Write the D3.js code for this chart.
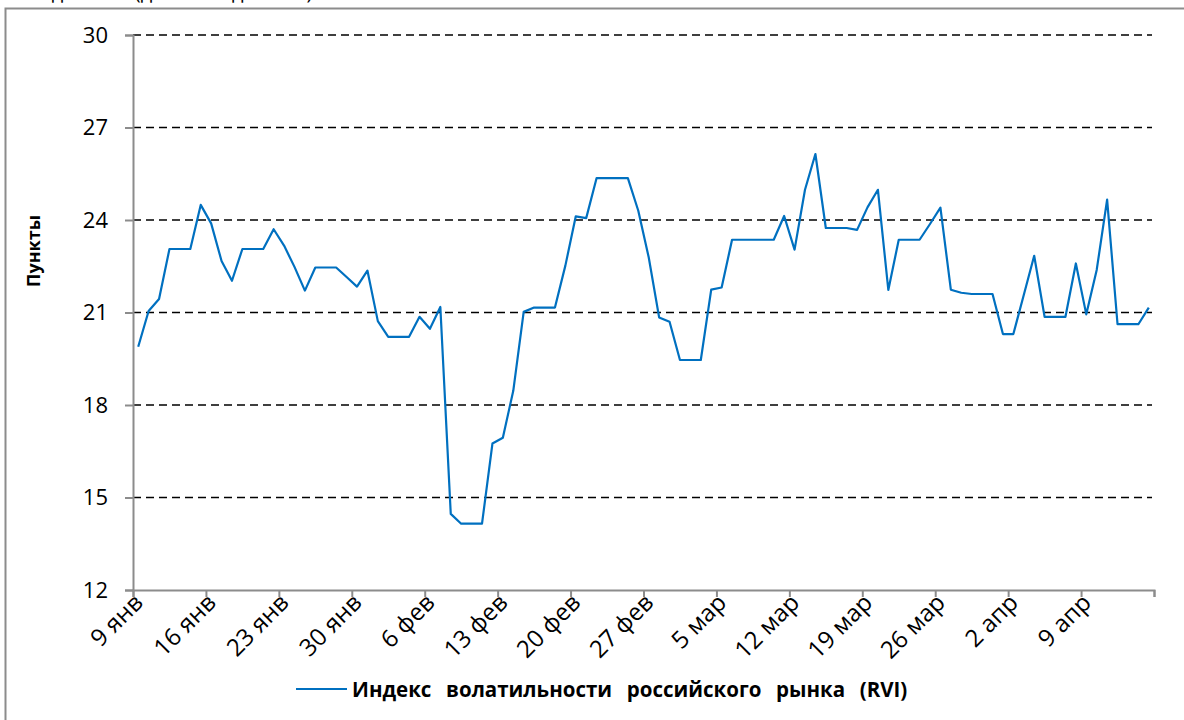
<!DOCTYPE html>
<html>
<head>
<meta charset="utf-8">
<script src="https://d3js.org/d3.v7.min.js"></script>
<style>
  body { margin: 0; background: #fff; }
  svg { display: block; font-family: 'Open Sans', 'Noto Sans', sans-serif; }
</style>
</head>
<body>
<div id="chart"></div>
<script>
// RVI daily values, 2024 (weekends carry the Friday value, as on the picture)
var janValues = [19.89, 21.05, 21.44, 23.06, 23.06, 23.06, 24.49, 23.89, 22.67, 22.03,
    23.06, 23.06, 23.06, 23.70, 23.17, 22.48, 21.71, 22.46, 22.46, 22.46, 22.15, 21.84, 22.36];
var febValues = [20.72, 20.21, 20.21, 20.21, 20.86, 20.47, 21.18, 14.47, 14.15, 14.15,
    14.15, 16.75, 16.94, 18.46, 21.02, 21.16, 21.16, 21.16, 22.52, 24.12, 24.06, 25.36,
    25.36, 25.36, 25.36, 24.30, 22.79, 20.84, 20.70];
var marValues = [19.46, 19.46, 19.46, 21.74, 21.81, 23.36, 23.36, 23.36, 23.36, 23.36,
    24.13, 23.04, 24.98, 26.14, 23.74, 23.74, 23.74, 23.68, 24.41, 24.98, 21.73, 23.36,
    23.36, 23.36, 23.87, 24.40, 21.74, 21.64, 21.60, 21.60, 21.60];
var aprValues = [20.30, 20.30, 21.57, 22.84, 20.86, 20.86, 20.86, 22.59, 20.94, 22.38,
    24.66, 20.62, 20.62, 20.62, 21.16];

var firstDay = new Date(Date.UTC(2024, 0, 9));
var lastDay = new Date(Date.UTC(2024, 3, 16));

var xTickLabels = ['9 янв', '16 янв', '23 янв', '30 янв', '6 фев', '13 фев', '20 фев',
    '27 фев', '5 мар', '12 мар', '19 мар', '26 мар', '2 апр', '9 апр', ''];
var yTicks = [12, 15, 18, 21, 24, 27, 30];

var seriesName = 'Индекс  волатильности  российского  рынка  (RVI)';
var yTitle = 'Пункты';
var topTitle = 'Индекс RVI (дневные данные)';

// build data: one point per calendar day, plotted in the middle of the day
var allValues = janValues.concat(febValues, marValues, aprValues);
var data = allValues.map(function(v, i) {
    return { date: d3.utcHour.offset(d3.utcDay.offset(firstDay, i), 12), value: v };
});
var tickDates = xTickLabels.map(function(l, i) { return d3.utcDay.offset(firstDay, i * 7); });

var svgWidth = 1184;
var svgHeight = 720;

var svg = d3.select('#chart')
    .append('svg')
    .attr('width', svgWidth)
    .attr('height', svgHeight);

// outer chart frame (right and bottom edges fall outside the picture)
svg.append('rect')
    .attr('x', 5.5)
    .attr('y', 8.5)
    .attr('width', 1190)
    .attr('height', 720)
    .attr('fill', 'none')
    .attr('stroke', '#8c8c8c')
    .attr('stroke-width', 2);

// clipped chart title at the very top
svg.append('text')
    .attr('x', 24)
    .attr('y', -1)
    .style('font-size', '20px')
    .text(topTitle);

var xScale = d3.scaleUtc()
    .domain([firstDay, lastDay])
    .range([133, 1154]);

var yScale = d3.scaleLinear()
    .domain([12, 30])
    .range([590, 35]);

// dashed gridlines
svg.append('g')
    .selectAll('line')
    .data(yTicks.slice(1))
    .enter()
    .append('line')
    .attr('x1', 133)
    .attr('x2', 1152)
    .attr('y1', d => yScale(d))
    .attr('y2', d => yScale(d))
    .attr('stroke', '#000')
    .attr('stroke-width', 1.6)
    .attr('stroke-dasharray', '8,5');

// y axis
var yAxis = svg.append('g')
    .attr('transform', 'translate(133,0)')
    .call(d3.axisLeft(yScale).tickValues(yTicks).tickSize(8).tickPadding(17));
yAxis.attr('font-family', null).attr('font-size', null);
yAxis.select('.domain').attr('stroke', '#8c8c8c').attr('stroke-width', 2);
yAxis.selectAll('.tick line').attr('stroke', '#8c8c8c').attr('stroke-width', 2);
yAxis.selectAll('.tick text')
    .style('font-size', '22px')
    .style('fill', '#000');

// x axis: ticks from d3, labels turned 45 degrees
var xAxis = svg.append('g')
    .attr('transform', 'translate(0,590)')
    .call(d3.axisBottom(xScale).tickValues(tickDates).tickSize(7)
        .tickFormat(function(d, i) { return xTickLabels[i]; }));
xAxis.attr('font-family', null).attr('font-size', null);
xAxis.select('.domain').attr('stroke', '#8c8c8c').attr('stroke-width', 2);
xAxis.selectAll('.tick line').attr('stroke', '#8c8c8c').attr('stroke-width', 2);
xAxis.selectAll('.tick text')
    .style('font-size', '24px')
    .style('fill', '#000')
    .attr('text-anchor', 'end')
    .attr('y', 0)
    .attr('dy', 0)
    .attr('transform', 'translate(11,14) rotate(-45)');

// the line
var line = d3.line()
    .x(d => xScale(d.date))
    .y(d => yScale(d.value));

svg.append('path')
    .datum(data)
    .attr('d', line)
    .attr('fill', 'none')
    .attr('stroke', '#0070c0')
    .attr('stroke-width', 2.2)
    .attr('stroke-linejoin', 'round');

// y axis title
svg.append('text')
    .attr('transform', 'translate(40,251) rotate(-90)')
    .attr('text-anchor', 'middle')
    .style('font-size', '18px')
    .style('font-weight', 'bold')
    .text(yTitle);

// legend
svg.append('line')
    .attr('x1', 296)
    .attr('x2', 347)
    .attr('y1', 689)
    .attr('y2', 689)
    .attr('stroke', '#0070c0')
    .attr('stroke-width', 2.2);

svg.append('text')
    .attr('x', 352)
    .attr('y', 697)
    .style('font-size', '20.5px')
    .style('font-weight', 'bold')
    .style('white-space', 'pre')
    .style('word-spacing', '2px')
    .text(seriesName);
</script>
</body>
</html>
